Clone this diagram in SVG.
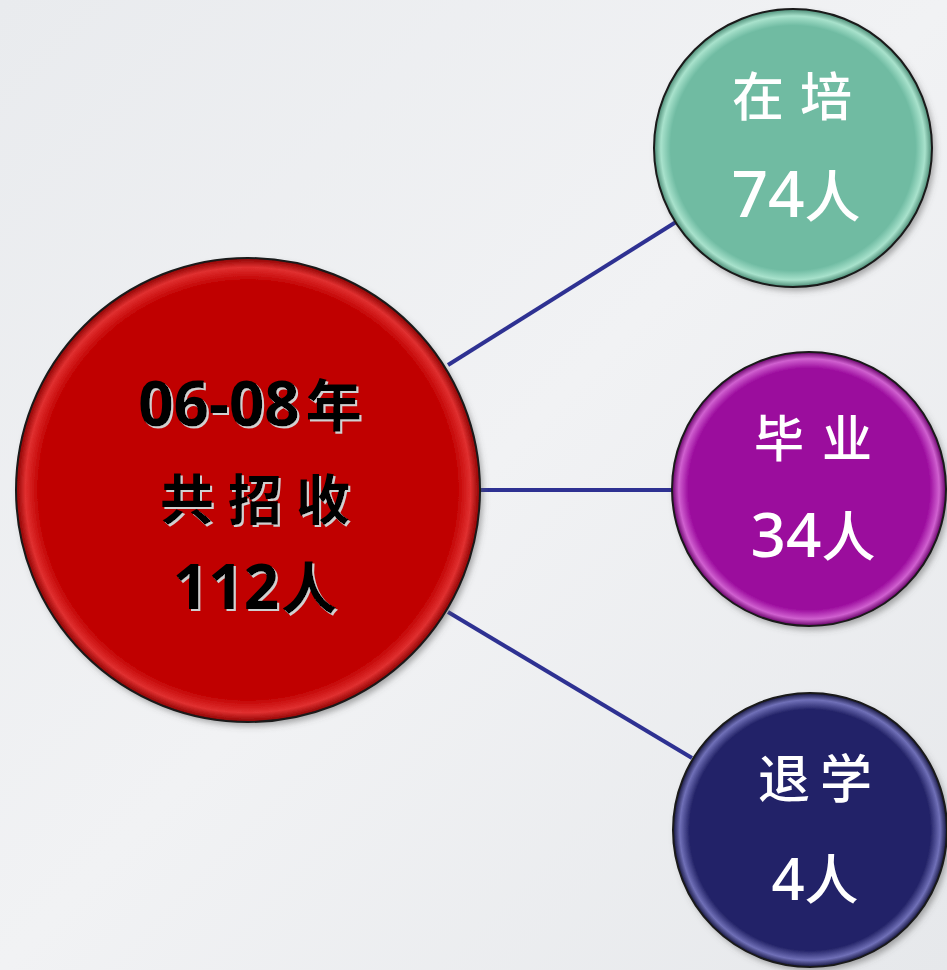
<svg xmlns="http://www.w3.org/2000/svg" width="947" height="970" viewBox="0 0 947 970">
<style>
.cn{font-family:"Noto Sans CJK SC","Noto Sans",sans-serif;text-anchor:middle}
.num{font-family:"Noto Sans","Noto Sans CJK SC",sans-serif;text-anchor:middle}
.wt{fill:#ffffff;font-weight:500}
.bk{fill:#000000;font-weight:bold;filter:url(#ts)}
.conn{stroke:#2e3192;stroke-width:4;fill:none}
.outline{fill:none;stroke:#1a1a1a;stroke-width:2}
</style>
<defs>
<linearGradient id="bg" x1="0" y1="0" x2="1" y2="1">
<stop offset="0" stop-color="#e9ebee"/>
<stop offset="0.5" stop-color="#f1f2f4"/>
<stop offset="1" stop-color="#e6e8eb"/>
</linearGradient>
<radialGradient id="gRed" cx="0.5" cy="0.5" r="0.5">
<stop offset="0.9" stop-color="#c00000"/>
<stop offset="0.96" stop-color="#e03030"/>
<stop offset="1" stop-color="#8a0000"/>
</radialGradient>
<radialGradient id="gTeal" cx="0.5" cy="0.5" r="0.5">
<stop offset="0.88" stop-color="#6fbba2"/>
<stop offset="0.95" stop-color="#a8e2cc"/>
<stop offset="1" stop-color="#4a8a74"/>
</radialGradient>
<radialGradient id="gPur" cx="0.5" cy="0.5" r="0.5">
<stop offset="0.88" stop-color="#9b0b9d"/>
<stop offset="0.95" stop-color="#d060d0"/>
<stop offset="1" stop-color="#650066"/>
</radialGradient>
<radialGradient id="gNavy" cx="0.5" cy="0.5" r="0.5">
<stop offset="0.88" stop-color="#242468"/>
<stop offset="0.95" stop-color="#7070b8"/>
<stop offset="1" stop-color="#14143e"/>
</radialGradient>
<filter id="ds" x="-10%" y="-10%" width="125%" height="125%">
<feDropShadow dx="3" dy="4" stdDeviation="3" flood-color="#555" flood-opacity="0.5"/>
</filter>
<filter id="ts" x="-5%" y="-10%" width="115%" height="130%">
<feDropShadow dx="2" dy="2" stdDeviation="0" flood-color="#d0d0d0" flood-opacity="1"/>
</filter>
</defs>
<rect width="947" height="970" fill="url(#bg)"/>
<g id="connectors">
<line class="conn" x1="448" y1="365" x2="676" y2="222"/>
<line class="conn" x1="480" y1="490" x2="674" y2="490"/>
<line class="conn" x1="448" y1="612" x2="692" y2="758"/>
</g>
<g id="node-total">
<circle cx="248" cy="490" r="232" fill="url(#gRed)" filter="url(#ds)"/>
<circle class="outline" cx="248" cy="490" r="232"/>
<text class="num bk" x="250" y="426" font-size="62">06-08<tspan class="cn" font-size="56" dx="6">年</tspan></text>
<text class="cn bk" x="262" y="520" font-size="54" letter-spacing="14">共招收</text>
<text class="num bk" x="255" y="609" font-size="62">112<tspan class="cn" font-size="56" dx="2">人</tspan></text>
</g>
<g id="node-training">
<circle cx="793" cy="148" r="139" fill="url(#gTeal)" filter="url(#ds)"/>
<circle class="outline" cx="793" cy="148" r="139"/>
<text class="cn wt" x="800" y="116" font-size="52" letter-spacing="16">在培</text>
<text class="num wt" x="796" y="217" font-size="64">74<tspan class="cn" font-size="56">人</tspan></text>
</g>
<g id="node-graduated">
<circle cx="809" cy="489" r="137" fill="url(#gPur)" filter="url(#ds)"/>
<circle class="outline" cx="809" cy="489" r="137"/>
<text class="cn wt" x="822" y="457" font-size="50" letter-spacing="18">毕业</text>
<text class="num wt" x="813" y="557" font-size="62">34<tspan class="cn" font-size="54">人</tspan></text>
</g>
<g id="node-dropout">
<circle cx="810" cy="830" r="137" fill="url(#gNavy)" filter="url(#ds)"/>
<circle class="outline" cx="810" cy="830" r="137"/>
<text class="cn wt" x="820" y="798" font-size="52" letter-spacing="10">退学</text>
<text class="num wt" x="815" y="900" font-size="58">4<tspan class="cn" font-size="54">人</tspan></text>
</g>
</svg>
